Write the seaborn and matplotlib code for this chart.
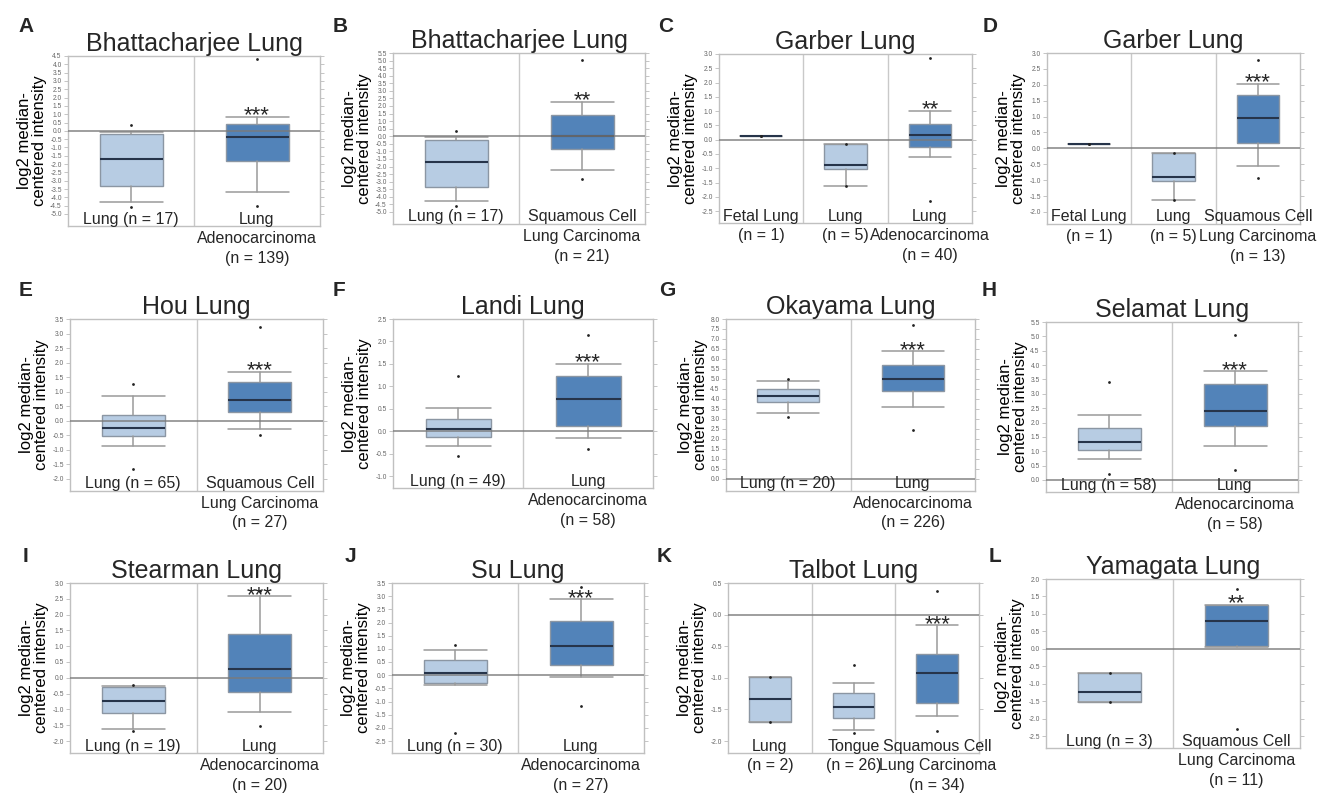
import numpy as np
import pandas as pd
import matplotlib
matplotlib.use("Agg")
import matplotlib.pyplot as plt
import matplotlib.transforms as mtransforms
import seaborn as sns

# ---------------- data ----------------
LETTERS = list("ABCDEFGHIJKL")
TITLES = ["Bhattacharjee Lung", "Bhattacharjee Lung", "Garber Lung", "Garber Lung",
          "Hou Lung", "Landi Lung", "Okayama Lung", "Selamat Lung",
          "Stearman Lung", "Su Lung", "Talbot Lung", "Yamagata Lung"]
GROUP_LABELS = [
    ["Lung (n = 17)", "Lung\nAdenocarcinoma\n(n = 139)"],
    ["Lung (n = 17)", "Squamous Cell\nLung Carcinoma\n(n = 21)"],
    ["Fetal Lung\n(n = 1)", "Lung\n(n = 5)", "Lung\nAdenocarcinoma\n(n = 40)"],
    ["Fetal Lung\n(n = 1)", "Lung\n(n = 5)", "Squamous Cell\nLung Carcinoma\n(n = 13)"],
    ["Lung (n = 65)", "Squamous Cell\nLung Carcinoma\n(n = 27)"],
    ["Lung (n = 49)", "Lung\nAdenocarcinoma\n(n = 58)"],
    ["Lung (n = 20)", "Lung\nAdenocarcinoma\n(n = 226)"],
    ["Lung (n = 58)", "Lung\nAdenocarcinoma\n(n = 58)"],
    ["Lung (n = 19)", "Lung\nAdenocarcinoma\n(n = 20)"],
    ["Lung (n = 30)", "Lung\nAdenocarcinoma\n(n = 27)"],
    ["Lung\n(n = 2)", "Tongue\n(n = 26)", "Squamous Cell\nLung Carcinoma\n(n = 34)"],
    ["Lung (n = 3)", "Squamous Cell\nLung Carcinoma\n(n = 11)"],
]
SIGNIF = ["***", "**", "**", "***", "***", "***", "***", "***", "***", "***", "***", "**"]
YTICK_MIN = [-5.0, -5.0, -2.5, -2.0, -2.0, -1.0, 0.0, 0.0, -2.0, -2.5, -2.0, -2.5]
YTICK_MAX = [4.5, 5.5, 3.0, 3.0, 3.5, 2.5, 8.0, 5.5, 3.0, 3.5, 0.5, 2.0]

MIN_VALS = [[-4.58, -4.54], [-4.6, -2.8], [0.13, -1.63, -2.13], [0.13, -1.63, -0.93],
            [-1.66, -0.5], [-0.55, -0.4], [3.1, 2.46], [0.2, 0.35],
            [-1.69, -1.53], [-2.21, -1.17], [-1.7, -1.88, -1.84], [-1.53, -2.29]]
P10_VALS = [[-4.28, -3.68], [-4.3, -2.2], [0.13, -1.63, -0.6], [0.13, -1.63, -0.55],
            [-0.86, -0.29], [-0.33, -0.15], [3.3, 3.6], [0.73, 1.2],
            [-1.62, -1.07], [-0.39, -0.08], [-1.7, -1.83, -1.6], [-1.53, 0.05]]
Q1_VALS = [[-3.34, -1.82], [-3.37, -0.84], [0.13, -1.04, -0.24], [0.13, -1.04, 0.16],
           [-0.51, 0.31], [-0.13, 0.11], [3.83, 4.38], [1.04, 1.87],
           [-1.12, -0.46], [-0.3, 0.37], [-1.7, -1.63, -1.4], [-1.53, 0.08]]
MED_VALS = [[-1.7, -0.36], [-1.7, 0.0], [0.13, -0.88, 0.16], [0.13, -0.9, 0.94],
            [-0.24, 0.71], [0.04, 0.71], [4.13, 5.02], [1.32, 2.41],
            [-0.74, 0.29], [0.09, 1.09], [-1.34, -1.46, -0.92], [-1.23, 0.81]]
Q3_VALS = [[-0.2, 0.4], [-0.26, 1.43], [0.13, -0.14, 0.56], [0.13, -0.14, 1.67],
           [0.2, 1.32], [0.27, 1.24], [4.52, 5.69], [1.81, 3.34],
           [-0.28, 1.4], [0.58, 2.07], [-0.98, -1.24, -0.62], [-0.7, 1.26]]
P90_VALS = [[-0.05, 0.86], [-0.05, 2.27], [0.13, -0.14, 1.02], [0.13, -0.14, 2.04],
            [0.86, 1.69], [0.52, 1.5], [4.89, 6.38], [2.25, 3.79],
            [-0.25, 2.58], [0.97, 2.89], [-0.98, -1.08, -0.17], [-0.7, 1.26]]
MAX_VALS = [[0.36, 4.3], [0.37, 5.02], [0.13, -0.14, 2.85], [0.13, -0.14, 2.78],
            [1.26, 3.23], [1.24, 2.14], [5.02, 7.7], [3.4, 5.06],
            [-0.22, 2.75], [1.14, 3.35], [-0.98, -0.79, 0.38], [-0.7, 1.72]]

# ---------------- layout / style ----------------
W, H = 1328, 794
AXES_PX = [  # left, top, right, bottom in pixels
    (68, 56, 320, 226), (393, 53, 645, 224), (719, 54, 972, 223), (1047, 53, 1300, 224),
    (70, 319, 323, 491), (393, 319, 653, 488), (726, 319, 975, 491), (1046, 322, 1298, 492),
    (70, 583, 323, 753), (392, 583, 644, 753), (728, 583, 979, 753), (1046, 579, 1300, 748),
]
LETTER_PX = [(26, 27), (340, 27), (666, 27), (990, 27),
             (26, 290), (339, 290), (667, 290), (989, 290),
             (25, 556), (350, 556), (664, 556), (995, 556)]
LIGHT = "#b7cce3"
DARK = "#5283b9"

sns.set_theme(style="white")
plt.rcParams["font.family"] = ["Liberation Sans", "DejaVu Sans"]

fig = plt.figure(figsize=(W / 100, H / 100), dpi=100)

for k in range(12):
    l, t, r, b = AXES_PX[k]
    ax = fig.add_axes([l / W, 1 - b / H, (r - l) / W, (b - t) / H])
    n = len(GROUP_LABELS[k])
    pos = list(range(n))
    stats = []
    for i in range(n):
        stats.append(dict(med=MED_VALS[k][i], q1=Q1_VALS[k][i], q3=Q3_VALS[k][i],
                          whislo=P10_VALS[k][i], whishi=P90_VALS[k][i], fliers=[]))
    bp = ax.bxp(stats, positions=pos, widths=0.5, capwidths=0.5, patch_artist=True,
                showfliers=False,
                boxprops=dict(edgecolor="#8b96a3", linewidth=1.0),
                medianprops=dict(color="#26344a", linewidth=1.5),
                whiskerprops=dict(color="#9a9a9a", linewidth=1.1),
                capprops=dict(color="#9a9a9a", linewidth=1.1))
    for i, patch in enumerate(bp["boxes"]):
        patch.set_facecolor(DARK if i == n - 1 else LIGHT)
        patch.set_zorder(2)

    dots = pd.DataFrame({"x": pos + pos, "y": MIN_VALS[k] + MAX_VALS[k]})
    sns.scatterplot(data=dots, x="x", y="y", ax=ax, color="#222222", s=4,
                    linewidth=0, legend=False, zorder=5)

    for i in range(n - 1):
        ax.axvline(i + 0.5, color="#c9c9c9", lw=1.0, zorder=1)
    ax.axhline(0, color="#7a7a7a", lw=1.2, alpha=0.85, zorder=4)

    lo, hi = YTICK_MIN[k], YTICK_MAX[k]
    span = hi - lo
    ax.set_ylim(lo - span * 12 / 158, hi)
    ax.set_xlim(-0.5, n - 0.5)
    ticks = np.arange(lo, hi + 1e-9, 0.5)
    ax.set_yticks(ticks)
    ax.set_yticklabels([f"{v:.1f}" for v in ticks])
    ax.set_xticks([])
    ax.tick_params(axis="y", labelsize=4.8, labelcolor="#666666", colors="#bbbbbb",
                   length=3, width=0.6, direction="out", left=True, right=True,
                   labelright=False, pad=1.5)
    for s in ax.spines.values():
        s.set_color("#c0c0c0")
        s.set_linewidth(1.0)
    ax.set_xlabel("")
    ax.set_ylabel("log2 median-\ncentered intensity", fontsize=12, labelpad=2,
                  linespacing=1.0, color="black")
    ax.set_title(TITLES[k], fontsize=18, pad=3)

    trans = mtransforms.blended_transform_factory(ax.transData, ax.transAxes)
    for i, lab in enumerate(GROUP_LABELS[k]):
        ax.text(i, 0.085, lab, transform=trans, ha="center", va="top",
                fontsize=11.5, linespacing=1.38, clip_on=False, zorder=6)

    ax.annotate(SIGNIF[k], xy=(n - 1, P90_VALS[k][n - 1]), xytext=(0, -7),
                textcoords="offset points", ha="center", va="bottom",
                fontsize=16, zorder=6)

    fig.text(LETTER_PX[k][0] / W, 1 - LETTER_PX[k][1] / H, LETTERS[k],
             ha="center", va="center", fontsize=15, fontweight="bold")

fig.savefig("out.png", dpi=100)
